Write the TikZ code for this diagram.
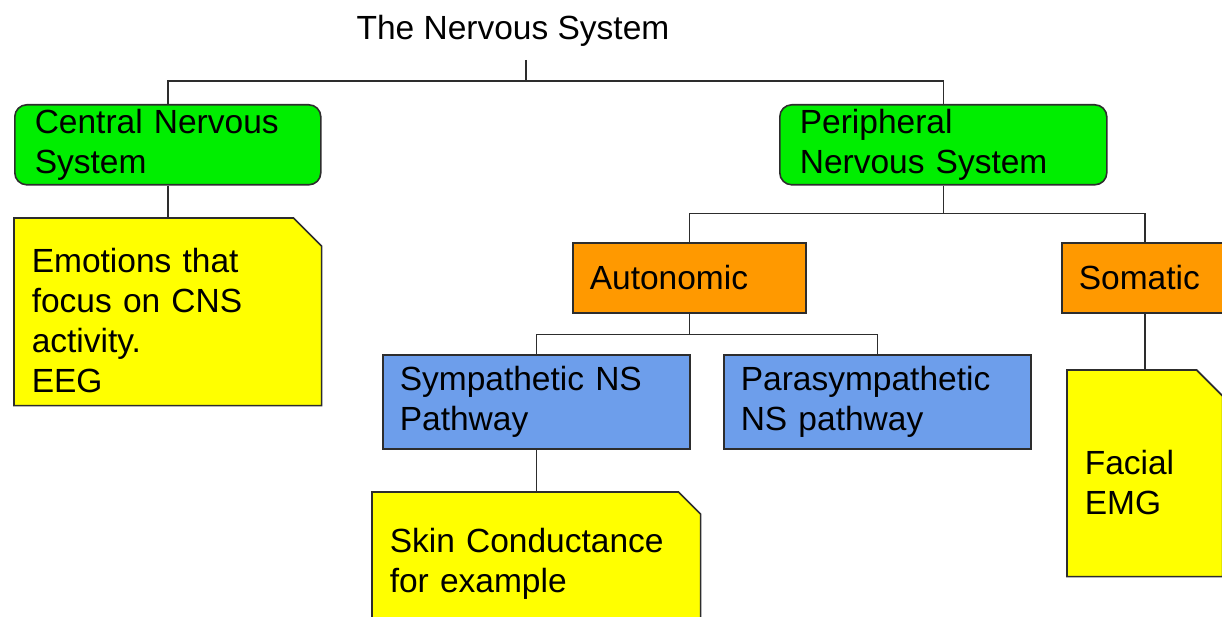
\documentclass[tikz,border=0pt]{standalone}
\usepackage{fontspec}
\setmainfont{Liberation Sans}
\usetikzlibrary{backgrounds}
\definecolor{nsgreen}{RGB}{0,238,0}
\definecolor{nsyellow}{RGB}{255,255,0}
\definecolor{nsorange}{RGB}{255,153,0}
\definecolor{nsblue}{RGB}{109,158,235}
\definecolor{nsline}{RGB}{45,45,45}

\tikzset{
  box/.style={draw=nsline,line width=1.6pt,anchor=north west,align=left,
    inner xsep=17pt,inner ysep=0pt,font=\fontsize{33.5}{40}\selectfont},
  sysbox/.style={box,fill=nsgreen,rounded corners=12pt,inner xsep=20pt},
  divbox/.style={box,fill=nsorange},
  pathbox/.style={box,fill=nsblue},
  notebox/.style={box,draw=none},
  noteshape/.style={draw=nsline,fill=nsyellow,line width=1.6pt},
  wire/.style={draw=nsline,line width=1.6pt}
}
% folded note outline behind a node: #1 node, #2 corner size
\newcommand{\notefold}[2]{%
  \begin{scope}[on background layer]
    \path[noteshape] (#1.north west) -- ([xshift=-#2]#1.north east)
      -- ([yshift=-#2]#1.north east) -- (#1.south east) -- (#1.south west) -- cycle;
  \end{scope}}

\begin{document}
\begin{tikzpicture}[x=1pt,y=-1pt]
\useasboundingbox (0,0) rectangle (1222,617);
\clip (0,0) rectangle (1222,617);

% Title
\node[font=\fontsize{33.5}{40}\selectfont] (title) at (513,31) {The Nervous System};
\coordinate (root) at (526,60);

% Central and peripheral
\node[sysbox,text width=266pt,minimum height=80pt] (cns) at (14,104) {Central Nervous\\System};
\node[sysbox,text width=287pt,minimum height=80pt] (pns) at (779,104) {Peripheral\\Nervous System};

% CNS note
\node[notebox,text width=272pt,minimum height=186pt,text height=42pt] (cnsnote) at (14,218)
  {Emotions that\\focus on CNS\\activity.\\EEG};
\notefold{cnsnote}{28pt}

% Autonomic and somatic
\node[divbox,text width=199pt,minimum height=70pt] (auto) at (572,242) {Autonomic};
\node[divbox,text width=132pt,minimum height=70pt] (som) at (1061,242) {Somatic};

% Pathways
\node[pathbox,text width=273pt,minimum height=94pt] (sym) at (382,354) {Sympathetic NS\\Pathway};
\node[pathbox,text width=273pt,minimum height=94pt] (para) at (723,354) {Parasympathetic\\NS pathway};

% Notes
\node[notebox,text width=293pt,minimum height=142pt] (skin) at (372,492)
  {Skin Conductance\\for example};
\notefold{skin}{22pt}
\node[notebox,text width=120pt,minimum height=205pt,text height=42pt] (facial) at (1067,370)
  {Facial\\EMG};
\notefold{facial}{26pt}

% Connectors
\draw[wire] (root) -- ++(0,21) coordinate (rootbar);
\draw[wire] (rootbar) -| (cns.north);
\draw[wire] (rootbar) -| (pns.north);
\draw[wire] (cns.south) -- (cnsnote.north);
\draw[wire] (pns.south) -- ++(0,28) coordinate (pnsbar);
\draw[wire] (pnsbar) -| (auto.north);
\draw[wire] (pnsbar) -| (som.north);
\draw[wire] (auto.south) -- ++(0,21) coordinate (autobar);
\draw[wire] (autobar) -| (sym.north);
\draw[wire] (autobar) -| (para.north);
\draw[wire] (sym.south) -- (skin.north);
\draw[wire] (som.south) -- (facial.north);
\end{tikzpicture}
\end{document}
